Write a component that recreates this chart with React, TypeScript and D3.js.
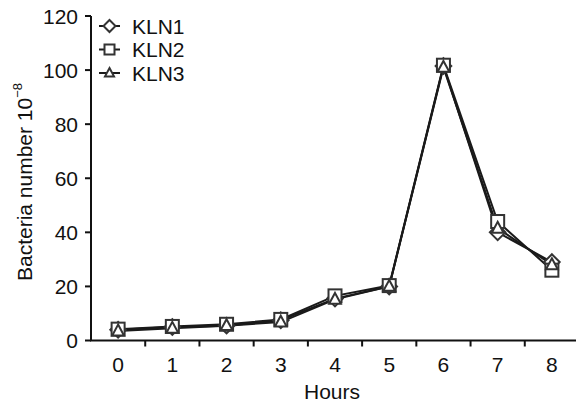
import React from "react";
import * as d3 from "d3";

const hours = [0, 1, 2, 3, 4, 5, 6, 7, 8];
const kln1 = [4, 5, 5.5, 7.5, 15.5, 20, 101.5, 40, 29];
const kln2 = [4.2, 5.2, 6, 7.8, 16.5, 20.3, 101.8, 44, 26];
const kln3 = [3.5, 4.5, 5.5, 6.8, 15.2, 20, 101, 41.5, 28];
const yTicks = [0, 20, 40, 60, 80, 100, 120];
const seriesNames = ["KLN1", "KLN2", "KLN3"];
const seriesValues = [kln1, kln2, kln3];
const seriesShapes = ["diamond", "square", "triangle"];

const W = 576;
const H = 406;
const FONT = "Liberation Sans, Arial, sans-serif";

function Marker({ shape, x, y, s }: { shape: string; x: number; y: number; s: number }) {
  const st = { fill: "#fff", stroke: "#333", strokeWidth: 2 };
  if (shape === "square") {
    return <rect x={x - s / 2} y={y - s / 2} width={s} height={s} {...st} />;
  }
  if (shape === "diamond") {
    const r = s * 0.6;
    return <path d={`M${x},${y - r}L${x + r},${y}L${x},${y + r}L${x - r},${y}Z`} {...st} />;
  }
  const r = s * 0.45;
  return (
    <path
      d={`M${x},${y - r * 1.1}L${x + r},${y + r * 0.75}L${x - r},${y + r * 0.75}Z`}
      {...st}
    />
  );
}

export default function App() {
  const x = d3.scaleLinear().domain([-0.5, 8.5]).range([91, 579]);
  const y = d3.scaleLinear().domain([0, 120]).range([340.5, 16]);
  const line = d3
    .line<number>()
    .x((_, i) => x(hours[i]))
    .y((d) => y(d));
  const xBoundaries = d3.range(-0.5, 8.6, 1);

  return (
    <svg
      width={W}
      height={H}
      style={{ position: "absolute", left: 0, top: 0, background: "#fff" }}
      fontFamily={FONT}
    >
      {/* axes */}
      <line x1={x(-0.5)} x2={x(-0.5)} y1={y(120)} y2={y(0)} stroke="#111" strokeWidth={2} />
      <line x1={x(-0.5) - 1} x2={W} y1={y(0)} y2={y(0)} stroke="#111" strokeWidth={2} />
      {yTicks.map((t) => (
        <g key={t}>
          <line x1={x(-0.5) - 6} x2={x(-0.5)} y1={y(t)} y2={y(t)} stroke="#111" strokeWidth={2} />
          <text
            x={x(-0.5) - 13}
            y={y(t)}
            textAnchor="end"
            dominantBaseline="central"
            fontSize={21}
            fill="#111"
          >
            {t}
          </text>
        </g>
      ))}
      {xBoundaries.slice(1).map((b) => (
        <line key={b} x1={x(b)} x2={x(b)} y1={y(0)} y2={y(0) + 6} stroke="#111" strokeWidth={2} />
      ))}
      {hours.map((h) => (
        <text key={h} x={x(h)} y={y(0) + 31} textAnchor="middle" fontSize={21} fill="#111">
          {h}
        </text>
      ))}
      <text x={332} y={399} textAnchor="middle" fontSize={21} fill="#111">
        Hours
      </text>
      <text
        transform={`translate(32,${182}) rotate(-90)`}
        textAnchor="middle"
        fontSize={21}
        fill="#111"
      >
        Bacteria number 10
        <tspan dy={-10} fontSize={13}>
          −8
        </tspan>
      </text>

      {/* series */}
      {seriesValues.map((vals, si) => (
        <path key={"l" + si} d={line(vals) || ""} fill="none" stroke="#1a1a1a" strokeWidth={2} />
      ))}
      {seriesValues.map((vals, si) => (
        <g key={"m" + si}>
          {vals.map((v, i) => (
            <Marker key={i} shape={seriesShapes[si]} x={x(hours[i])} y={y(v)} s={13} />
          ))}
        </g>
      ))}

      {/* legend */}
      {seriesNames.map((n, i) => {
        const ly = 26 + i * 23.5;
        return (
          <g key={n}>
            <line x1={99} x2={120} y1={ly} y2={ly} stroke="#1a1a1a" strokeWidth={2} />
            <Marker shape={seriesShapes[i]} x={109.5} y={ly} s={10} />
            <text x={132} y={ly} dominantBaseline="central" fontSize={21} fill="#111">
              {n}
            </text>
          </g>
        );
      })}
    </svg>
  );
}
